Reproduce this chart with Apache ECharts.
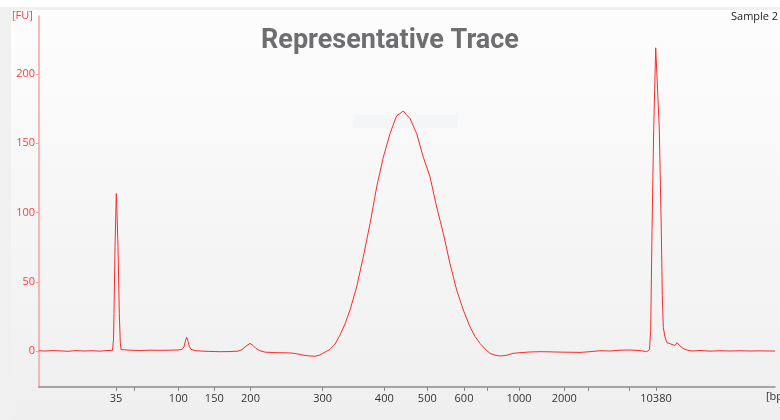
<!DOCTYPE html>
<html>
<head>
<meta charset="utf-8">
<script src="https://cdn.jsdelivr.net/npm/echarts@6/dist/echarts.min.js"></script>
<style>html,body{margin:0;padding:0;background:#f0f0f0}#c{width:780px;height:420px}</style>
</head>
<body>
<div id="c"></div>
<script>
// Migration time (arbitrary s) and fluorescence (FU)
const traceTime = [40.0,40.6,41.3,42.1,42.9,43.7,44.5,45.3,46.1,46.7,47.1,47.35,47.45,47.5,47.6,47.73,47.8,47.9,48.03,48.13,48.2,48.4,49.1,50.1,51.1,52.1,53.1,53.9,54.3,54.5,54.65,54.77,54.9,55.05,55.2,55.6,56.1,57.1,58.1,59.1,59.9,60.3,60.7,61.1,61.4,61.7,62.1,62.6,63.6,64.6,65.3,65.9,66.6,67.1,67.6,68.1,68.6,69.1,69.6,70.1,70.6,71.1,71.77,72.43,73.1,73.77,74.43,75.1,75.4,75.77,76.1,76.43,76.7,77.1,77.4,77.77,78.43,79.1,79.77,80.43,81.1,81.77,82.43,83.1,83.6,84.1,84.6,85.1,85.6,86.1,86.7,87.4,88.1,89.1,90.1,91.1,92.1,93.1,94.1,95.1,96.1,97.1,98.1,99.1,100.1,100.77,101.05,101.17,101.3,101.47,101.67,101.85,102.03,102.23,102.33,102.43,102.6,102.8,103.0,103.2,103.4,103.6,103.8,104.0,104.2,104.5,104.9,105.3,106.1,107.1,108.1,109.1,110.1,111.1,112.1,113.1,113.6];
const traceFU = [0.2,0.0,0.3,0.1,-0.2,0.3,0.0,0.2,-0.1,0.3,0.4,0.5,8,27,75,113.7,100,75,27,6,1,0.5,0.6,0.4,0.6,0.5,0.6,0.7,1.2,3,7.5,9.9,7,3,1.2,0.3,0,-0.3,-0.5,-0.4,-0.1,1,3.5,5.5,4,1.8,0.2,-0.8,-1.2,-1.3,-1.5,-2.2,-3.2,-3.6,-3.8,-2.9,-0.8,1.2,5,11.5,19.5,29.6,46.4,68,92,118.5,140,157,163,170,171.5,173.4,171,168,163,157,140,125.8,104,85,63,44,29.6,17.5,10.5,5.5,1.5,-1.7,-3,-3.6,-3.2,-1.7,-1.2,-0.7,-0.5,-0.6,-0.8,-0.9,-1.0,-0.5,0.2,0.0,0.6,0.7,0.3,-0.5,1,15,87,160,219,190,160,87,40,17,10,6,7,5,5.5,4,6,5,3,1.5,0.5,0,0.4,-0.1,0.2,0.0,0.2,0,0.1,0,0];

// Ladder: fragment sizes and their migration times
const ladderSizes = [35,50,100,150,200,300,400,500,600,700,1000,2000,3000,7000,10380];
const ladderTimes = [47.7,49.53,53.93,57.53,61.15,68.37,74.53,78.83,82.5,84.87,88.0,92.53,94.93,99.0,101.7];
const labeledSizes = [35,100,150,200,300,400,500,600,1000,2000,10380];
const yTicks = [0,50,100,150,200];

const data = traceTime.map((t,i)=>[t, traceFU[i]]);
const labelFor = v => {
  const i = ladderTimes.findIndex(t => Math.abs(t - v) < 1e-6);
  if (i < 0) return '';
  const s = ladderSizes[i];
  return labeledSizes.includes(s) ? String(s) : '';
};

const chart = echarts.init(document.getElementById('c'), null, {renderer:'canvas'});
chart.setOption({
  backgroundColor: '#f0f0f0',
  animation: false,
  graphic: [
    {type:'rect', z:-10, silent:true, shape:{x:0,y:0,width:780,height:7}, style:{fill:'#ffffff'}},
    {type:'rect', z:-10, silent:true, shape:{x:11,y:10,width:769,height:410},
      style:{fill:new echarts.graphic.LinearGradient(0,0,0,1,[{offset:0,color:'#fdfdfd'},{offset:1,color:'#efefef'}])}},
    {type:'rect', z:-9, silent:true, shape:{x:353,y:115,width:104,height:13}, style:{fill:'rgba(228,234,244,0.25)'}},
    {type:'text', z:-8, silent:true, left:12, top:10, style:{text:'[FU]', fill:'#ff3b3b', font:'11px "Open Sans"'}},
    {type:'text', z:-8, silent:true, left:731, top:11, style:{text:'Sample 2', fill:'#222', font:'11px "Open Sans"'}},
    {type:'text', z:-8, silent:true, left:766, top:391, style:{text:'[bp]', fill:'#333', font:'11px "Open Sans"'}}
  ],
  title: {
    text: 'Representative Trace', left: 'center', top: 23,
    textStyle: {fontSize: 27, fontWeight: 'bold', color: '#6e6e70', fontFamily: 'Roboto'}
  },
  grid: {left: 39, right: 5, top: 16, bottom: 33, containLabel: false},
  xAxis: {
    type: 'value', min: 40, max: 113.6,
    splitLine: {show: false},
    axisLine: {onZero: false, lineStyle: {color: '#8a8a8a', width: 1.5}},
    axisTick: {customValues: ladderTimes, length: 4, lineStyle: {color: '#8a8a8a'}},
    axisLabel: {customValues: ladderTimes, formatter: labelFor, color: '#333', fontSize: 11, fontFamily: 'Open Sans', margin: 6}
  },
  yAxis: {
    type: 'value', min: -26, max: 242,
    splitLine: {show: false},
    axisLine: {show: true, onZero: false, lineStyle: {color: '#ff9e9e', width: 1.5}},
    axisTick: {show: true, customValues: yTicks, length: 3, lineStyle: {color: '#ff9e9e'}},
    axisLabel: {customValues: yTicks, color: '#ff3b3b', fontSize: 11, fontFamily: 'Open Sans', margin: 4}
  },
  series: [{
    type: 'line', data: data, showSymbol: false, symbol: 'none',
    lineStyle: {color: '#ff2a2a', width: 1}, z: 5
  }]
});
</script>
</body>
</html>
